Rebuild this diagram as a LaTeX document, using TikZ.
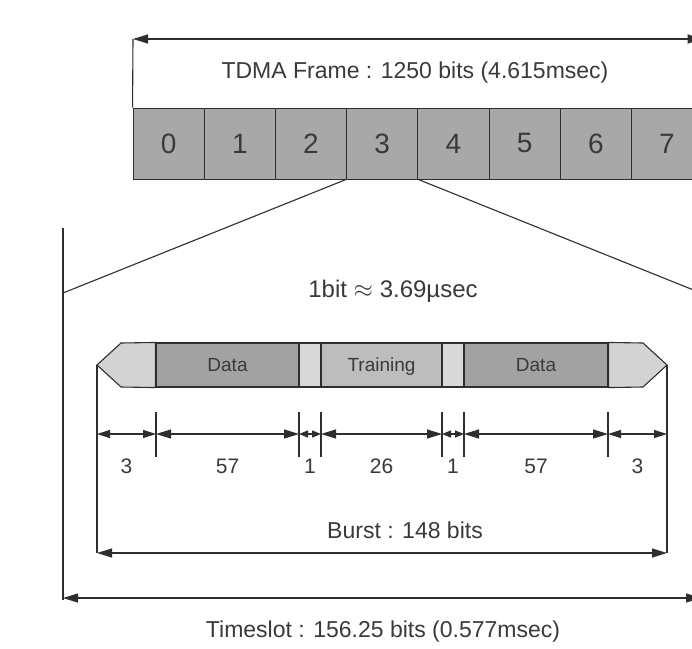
\documentclass[tikz,border=0pt]{standalone}
\usepackage{fontspec}
\setmainfont{Liberation Sans}
\usetikzlibrary{arrows.meta}
\definecolor{ink}{HTML}{2E2E2E}
\definecolor{txt}{HTML}{3A3A3A}
\definecolor{slotgray}{HTML}{A8A8A8}
\definecolor{datagray}{HTML}{A2A2A2}
\definecolor{traingray}{HTML}{BDBDBD}
\definecolor{tailgray}{HTML}{D3D3D3}
\definecolor{gapgray}{HTML}{D9D9D9}
\begin{document}
\begin{tikzpicture}[x=1pt,y=-1pt,line width=1.2pt,
  arr/.style={draw=ink,{Triangle[length=15pt,width=9pt]}-{Triangle[length=15pt,width=9pt]}},
  sarr/.style={draw=ink,{Triangle[length=9pt,width=7pt]}-{Triangle[length=9pt,width=7pt]}},
  slot/.style={draw=ink,fill=slotgray,line width=0.9pt,minimum width=71.2pt,minimum height=71pt,inner sep=0pt,text=txt,font=\fontsize{28}{28}\selectfont},
  seg/.style={draw=ink,line width=1.1pt,minimum height=44pt,inner sep=0pt,text=txt,text height=13.5pt,text depth=0pt,font=\fontsize{19}{20}\selectfont},
  lbl/.style={text=txt,inner sep=1pt,font=\fontsize{23}{24}\selectfont},
  dim/.style={text=txt,inner sep=1pt,text height=15pt,text depth=0pt,font=\fontsize{21}{22}\selectfont},
  thin/.style={draw=ink,line width=1.1pt}]
\useasboundingbox (0,0) rectangle (692,648);
\clip (0,0) rectangle (692,648);
\fill[white] (0,0) rectangle (692,648);
% TDMA frame
\foreach \i in {0,...,7}
  \node[slot] (s\i) at ({133+71.2*\i+35.6},143.5) {\i};
\coordinate (fl) at (133,39);
\coordinate (fr) at (702.6,39);
\draw[arr] (fl) -- (fr);
\draw[thin] (fl) -- (s0.north west);
\draw[thin] (fr) -- (s7.north east);
\node[lbl] (ft) at (415,73) {TDMA Frame : 1250 bits (4.615msec)};
% fan-out
\coordinate (tl) at (63,293);
\coordinate (tr) at (701,293);
\coordinate (tlt) at (63,228);
\coordinate (trt) at (701,228);
\coordinate (tlb) at (63,600);
\coordinate (trb) at (701,600);
\draw[thin] (s3.south west) -- (tl);
\draw[thin] (s3.south east) -- (tr);
\draw[thin] (tlt) -- (tlb);
\draw[thin] (trt) -- (trb);
\node[lbl,font=\fontsize{24}{25}\selectfont] (bit) at (393,291) {1bit $\approx$ 3.69µsec};
% burst
\node[seg,fill=datagray,minimum width=143pt] (d1) at (227.5,365) {Data};
\node[seg,fill=gapgray,minimum width=22pt] (g1) at (310,365) {};
\node[seg,fill=traingray,minimum width=121pt] (tn) at (381.5,365) {Training};
\node[seg,fill=gapgray,minimum width=22pt] (g2) at (453,365) {};
\node[seg,fill=datagray,minimum width=144pt] (d2) at (536,365) {Data};
\coordinate (bl) at (97,365);
\coordinate (br) at (667,365);
\draw[thin,fill=tailgray] (d1.north west) -- (121,343) -- (bl) -- (121,387) -- (d1.south west) -- cycle;
\draw[thin,fill=tailgray] (d2.north east) -- (643,343) -- (br) -- (643,387) -- (d2.south east) -- cycle;
% ticks
\foreach \n/\x in {a/156,b/299,c/321,d/442,e/464,f/608}{
  \coordinate (\n t) at (\x,412);
  \coordinate (\n b) at (\x,457);
  \coordinate (\n m) at (\x,434);
  \draw[thin] (\n t) -- (\n b);
}
\coordinate (blb) at (97,553);
\coordinate (brb) at (667,553);
\coordinate (blm) at (97,434);
\coordinate (brm) at (667,434);
\draw[thin] (bl) -- (blb);
\draw[thin] (br) -- (brb);
\draw[arr,{Triangle[length=13pt,width=8pt]}-{Triangle[length=13pt,width=8pt]}] (blm) -- (am);
\draw[arr] (am) -- (bm);
\draw[sarr] (bm) -- (cm);
\draw[arr] (cm) -- (dm);
\draw[sarr] (dm) -- (em);
\draw[arr] (em) -- (fm);
\draw[arr,{Triangle[length=13pt,width=8pt]}-{Triangle[length=13pt,width=8pt]}] (fm) -- (brm);
\node[dim] (l1) at (126.5,466) {3};
\node[dim] (l2) at (227.5,466) {57};
\node[dim] (l3) at (310,466) {1};
\node[dim] (l4) at (381.5,466) {26};
\node[dim] (l5) at (453,466) {1};
\node[dim] (l6) at (536,466) {57};
\node[dim] (l7) at (637.5,466) {3};
% burst and timeslot
\draw[arr] (blb) -- (brb);
\node[lbl] (bt) at (405,530) {Burst : 148 bits};
\coordinate (tsl) at (63,598);
\coordinate (tsr) at (701,598);
\draw[arr] (tsl) -- (tsr);
\node[lbl] (tt) at (383,632) {Timeslot : 156.25 bits (0.577msec)};
\end{tikzpicture}
\end{document}
